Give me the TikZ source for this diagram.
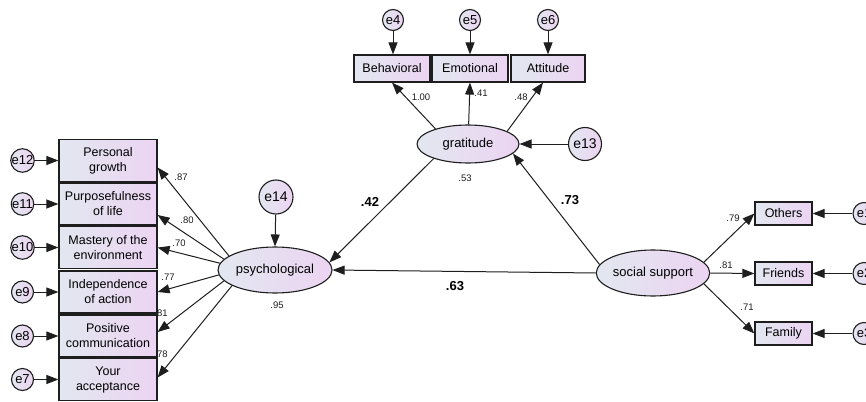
\documentclass[tikz,border=0pt]{standalone}
\usepackage{fontspec}
\setmainfont{Liberation Sans}
\usetikzlibrary{arrows.meta,shapes.geometric,calc}
\definecolor{lc}{RGB}{226,231,240}
\definecolor{rc}{RGB}{236,212,242}
\definecolor{ln}{RGB}{30,30,30}
\begin{document}
\begin{tikzpicture}[x=1pt,y=-1pt,
 obs/.style={draw=ln, line width=1.2pt, left color=lc, right color=rc, minimum width=98pt, minimum height=42pt, inner sep=1pt, align=center, font=\fontsize{12.5}{15}\selectfont},
 lat/.style={ellipse, draw=ln, line width=1.1pt, left color=lc, right color=rc, inner sep=0pt, font=\fontsize{13}{15}\selectfont},
 err/.style={circle, draw=ln, line width=1.1pt, left color=lc, right color=rc, inner sep=0pt, font=\fontsize{13}{15}\selectfont},
 arr/.style={-{Triangle[length=12pt,width=9pt]}, line width=1pt, draw=ln},
 coef/.style={font=\fontsize{9.5}{11}\selectfont, inner sep=0pt, text=ln},
 bcoef/.style={font=\bfseries\fontsize{13}{15}\selectfont, inner sep=0pt}
]
\fill[white] (0,0) rectangle (866,401);
\useasboundingbox (0,0) rectangle (866,401);

% left observed
\node[obs] (b1) at (108,160.5) {Personal\\growth};
\node[obs] (b2) at (108,204) {Purposefulness\\of life};
\node[obs] (b3) at (108,247.5) {Mastery of the\\environment};
\node[obs] (b4) at (108,292) {Independence\\of action};
\node[obs] (b5) at (108,336) {Positive\\communication};
\node[obs] (b6) at (108,379.5) {Your\\acceptance};

\node[err, minimum size=22pt] (e12) at (22.5,160.5) {e12};
\node[err, minimum size=22pt] (e11) at (22.5,204) {e11};
\node[err, minimum size=22pt] (e10) at (22.5,247.5) {e10};
\node[err, minimum size=22pt] (e9) at (22.5,292) {e9};
\node[err, minimum size=22pt] (e8) at (22.5,336) {e8};
\node[err, minimum size=22pt] (e7) at (22.5,379.5) {e7};

\foreach \e/\b in {e12/b1,e11/b2,e10/b3,e9/b4,e8/b5,e7/b6}
  \draw[arr] (\e) -- (\b);

% latent
\node[lat, minimum width=114pt, minimum height=46pt] (psy) at (275,270) {psychological};
\node[lat, minimum width=102pt, minimum height=38pt] (grat) at (468,144) {gratitude};
\node[lat, minimum width=113pt, minimum height=46pt] (soc) at (653,273) {social support};

\node[err, minimum size=34pt, font=\fontsize{14}{16}\selectfont] (e14) at (276,197) {e14};
\node[err, minimum size=33pt, font=\fontsize{14}{16}\selectfont] (e13) at (585,144) {e13};

% top observed
\node[obs, minimum width=76pt, minimum height=27pt] (beh) at (392,68.5) {Behavioral};
\node[obs, minimum width=76pt, minimum height=27pt] (emo) at (470,68.5) {Emotional};
\node[obs, minimum width=74pt, minimum height=27pt] (att) at (548,68.5) {Attitude};
\node[err, minimum size=21pt] (e4) at (393,20) {e4};
\node[err, minimum size=21pt] (e5) at (470,20) {e5};
\node[err, minimum size=21pt] (e6) at (548,20) {e6};
\draw[arr] (e4) -- (e4 |- beh.north);
\draw[arr] (e5) -- (emo);
\draw[arr] (e6) -- (att);

% right observed
\node[obs, minimum width=57pt, minimum height=23pt] (oth) at (783.5,213.5) {Others};
\node[obs, minimum width=57pt, minimum height=23pt] (fri) at (783.5,273.5) {Friends};
\node[obs, minimum width=57pt, minimum height=23pt] (fam) at (783.5,333.5) {Family};
\node[err, minimum size=22pt] (e1) at (864,213.5) {e1};
\node[err, minimum size=22pt] (e2) at (864,273.5) {e2};
\node[err, minimum size=22pt] (e3) at (864,333.5) {e3};
\draw[arr] (e1) -- (oth);
\draw[arr] (e2) -- (fri);
\draw[arr] (e3) -- (fam);

% loadings psychological
\draw[arr] (psy.163) -- ($(b1.east)+(0,7)$);
\draw[arr] (psy.168) -- ($(b2.east)+(0,11)$);
\draw[arr] (psy.173) -- (b3.east);
\draw[arr] (psy.185) -- (b4.east);
\draw[arr] (psy.192) -- ($(b5.east)+(0,-4)$);
\draw[arr] (psy.200) -- ($(b6.east)+(0,-2)$);

% loadings gratitude
\draw[arr] (grat.155) -- (beh.south);
\draw[arr] (grat) -- (emo.south);
\draw[arr] (grat.18) -- ($(att.south)+(-5,0)$);

% loadings social
\draw[arr] (soc.12) -- (oth.west);
\draw[arr] (soc.east) -- (fri.west);
\draw[arr] (soc.-12) -- (fam.west);

% residuals
\draw[arr] (e13) -- (grat.east);
\draw[arr] (e14) -- (psy.north);

% structural
\draw[arr] (grat.203) -- (psy.8);
\draw[arr] (soc.171) -- (grat.-12);
\draw[arr] (soc.west) -- (psy.east);

% coefficients
\node[coef] (c87) at (181,177) {.87};
\node[coef] (c80) at (187,220) {.80};
\node[coef] (c70) at (179,243) {.70};
\node[coef] (c77) at (168,277) {.77};
\node[coef] (c81) at (161,313) {.81};
\node[coef] (c78) at (161,354) {.78};
\node[coef] (c100) at (421,97) {1.00};
\node[coef] (c41) at (481,93) {.41};
\node[coef] (c48) at (521,97) {.48};
\node[coef] (c53) at (465,178) {.53};
\node[coef] (c95) at (277,305) {.95};
\node[coef] (c79) at (733,218) {.79};
\node[coef] (c81b) at (726,265) {.81};
\node[coef] (c71) at (747,307) {.71};
\node[bcoef] (c42) at (370,202) {.42};
\node[bcoef] (c73) at (570,200) {.73};
\node[bcoef] (c63) at (455,286) {.63};
\end{tikzpicture}
\end{document}
